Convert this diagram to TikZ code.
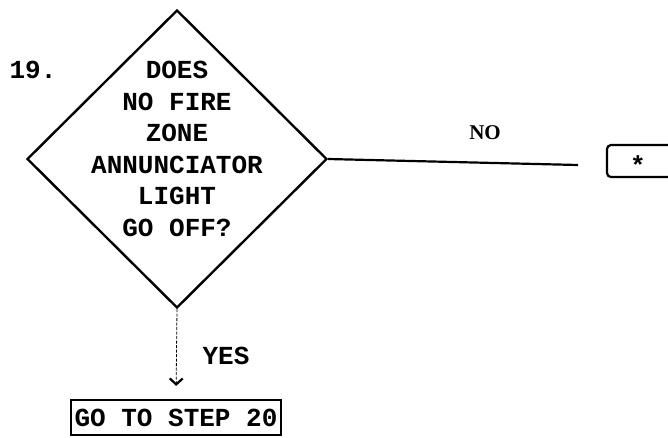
\documentclass[tikz,border=0pt]{standalone}
\usepackage{fontspec}
\newfontfamily\tw{Liberation Mono}
\newfontfamily\labelfont{Liberation Serif}
\usetikzlibrary{shapes.geometric,arrows.meta}
\begin{document}
\begin{tikzpicture}[x=1pt,y=-1pt,
  tt/.style={font=\tw\bfseries\fontsize{26}{31.5}\selectfont, inner sep=0pt},
  lbl/.style={font=\labelfont\bfseries\fontsize{21}{21}\selectfont, inner sep=0pt},
  decision/.style={diamond, draw, line width=2.4pt, minimum width=300pt, minimum height=298pt, inner sep=0pt},
  stepbox/.style={draw, line width=2.2pt, inner sep=0pt},
  flow/.style={line width=2.2pt},
  yesflow/.style={line width=0.8pt, dash pattern=on 3pt off 1.5pt,
    -{Straight Barb[length=6pt,width=13pt,line width=2.2pt]}, shorten >=13pt}]
\useasboundingbox (0,0) rectangle (668,437);
\node[decision] (d) at (177,159) {};
\node[tt, align=center] (q) at (177,149) {DOES\\NO FIRE\\ZONE\\ANNUNCIATOR\\LIGHT\\GO OFF?};
\node[tt] (n) at (33,70) {19.};
\node[lbl] (no) at (485,133) {NO};
\node[tt] (yes) at (226,356) {YES};
\node[stepbox, tt, minimum width=210pt, minimum height=35pt] (g) at (176,417.5) {GO TO STEP 20};
\node[stepbox, rounded corners=4pt, minimum width=80pt, minimum height=32pt] (s) at (647,161) {};
\node[tt] (star) at (638,165) {*};
\coordinate (noend) at (578,165);
\draw[flow] (d.east) -- (noend);
\draw[yesflow] (d.south) -- (g.north);
\end{tikzpicture}
\end{document}
